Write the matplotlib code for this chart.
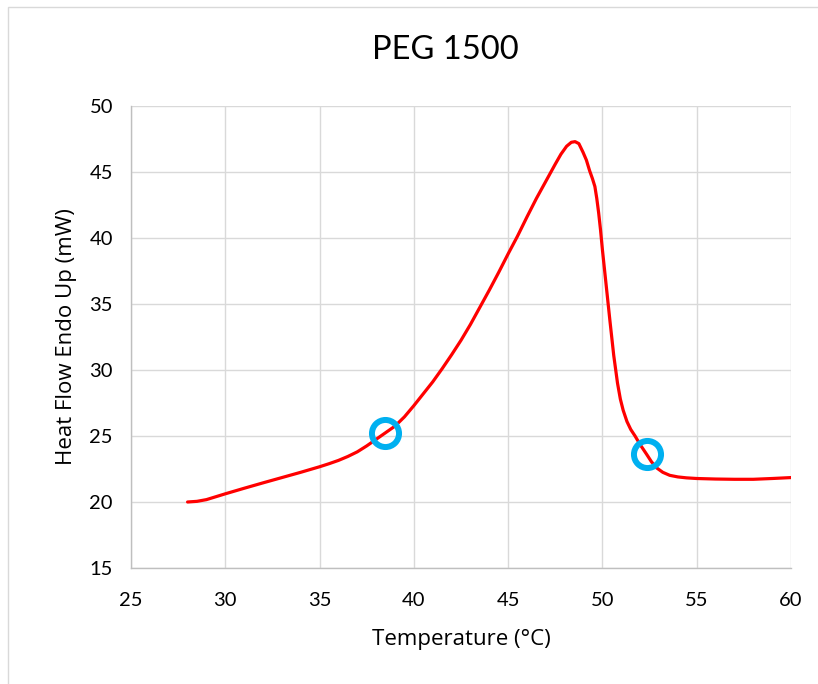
import matplotlib
matplotlib.use("Agg")
import matplotlib.pyplot as plt
from matplotlib.patches import Rectangle

title = "PEG 1500"
x_label = "Temperature (°C)"
y_label = "Heat Flow Endo Up (mW)"

temperature = [28.0, 28.5, 29.0, 29.5, 30.0, 31.0, 32.0, 33.0, 34.0, 35.0,
               35.5, 36.0, 36.5, 37.0, 37.5, 38.0, 38.5, 39.0, 39.5, 40.0,
               40.5, 41.0, 41.5, 42.0, 42.5, 43.0, 43.5, 44.0, 44.5, 45.0,
               45.5, 46.0, 46.5, 47.0, 47.5, 47.8, 48.1, 48.35, 48.55, 48.75,
               48.97, 49.15, 49.32, 49.47, 49.6, 49.7, 49.8, 49.9, 50.0, 50.2,
               50.4, 50.6, 50.8, 50.95, 51.1, 51.3, 51.5, 51.73, 52.0, 52.35,
               52.6, 52.86, 53.2, 53.57, 54.0, 54.45, 55.0, 56.0, 57.0, 58.0,
               59.0, 60.0]
heat_flow = [20.0, 20.05, 20.18, 20.4, 20.62, 21.04, 21.45, 21.85, 22.25, 22.67,
             22.9, 23.15, 23.45, 23.8, 24.25, 24.75, 25.25, 25.75, 26.45, 27.3,
             28.2, 29.1, 30.1, 31.15, 32.25, 33.45, 34.75, 36.05, 37.4, 38.8,
             40.15, 41.6, 43.0, 44.3, 45.6, 46.35, 46.95, 47.25, 47.3, 47.15,
             46.5, 45.9, 45.1, 44.5, 43.9, 43.0, 41.9, 40.6, 39.1, 36.4,
             33.7, 31.1, 29.0, 27.8, 26.95, 26.1, 25.5, 25.0, 24.35, 23.6,
             23.05, 22.6, 22.25, 22.02, 21.9, 21.83, 21.78, 21.74, 21.72, 21.72,
             21.78, 21.85]

marker_temperature = [38.46, 52.35]
marker_heat_flow = [25.2, 23.6]

x_ticks = [25, 30, 35, 40, 45, 50, 55, 60]
y_ticks = [15, 20, 25, 30, 35, 40, 45, 50]

fig = plt.figure(figsize=(8.18, 6.84), dpi=100)
fig.patches.append(Rectangle((8/818, -0.1), 1.2, 1 - 7/684 + 0.1,
                             transform=fig.transFigure, fill=False,
                             edgecolor="#D9D9D9", linewidth=1.0))
ax = fig.add_axes([131/818, 1 - 568/684, (791 - 131)/818, (568 - 106)/684])

ax.plot(temperature, heat_flow, color="#FF0000", linewidth=2.3,
        solid_capstyle="round", solid_joinstyle="round", zorder=3)
ax.plot(marker_temperature, marker_heat_flow, linestyle="none", marker="o",
        markersize=19.5, markerfacecolor="none", markeredgecolor="#00B0F0",
        markeredgewidth=4.3, zorder=4)

ax.set_xlim(25, 60)
ax.set_ylim(15, 50)
ax.set_xticks(x_ticks)
ax.set_yticks(y_ticks)
ax.grid(True, color="#D9D9D9", linewidth=1.0)
ax.set_axisbelow(True)
for s in ["top", "right"]:
    ax.spines[s].set_visible(False)
for s in ["left", "bottom"]:
    ax.spines[s].set_color("#BFBFBF")
    ax.spines[s].set_linewidth(1.0)
ax.tick_params(length=0, labelsize=14.5, labelcolor="#000000")
ax.tick_params(axis="x", pad=17)
ax.tick_params(axis="y", pad=13)
for lab in ax.get_xticklabels() + ax.get_yticklabels():
    lab.set_fontfamily("Lato")

ax.set_xlabel(x_label, fontsize=16, fontfamily="Open Sans", labelpad=15)
ax.set_ylabel(y_label, fontsize=16, fontfamily="Open Sans", labelpad=9)
fig.text(445/818, 1 - 50/684, title, ha="center", va="center",
         fontsize=23.5, fontfamily="Lato")

fig.savefig("out.png", dpi=100)
